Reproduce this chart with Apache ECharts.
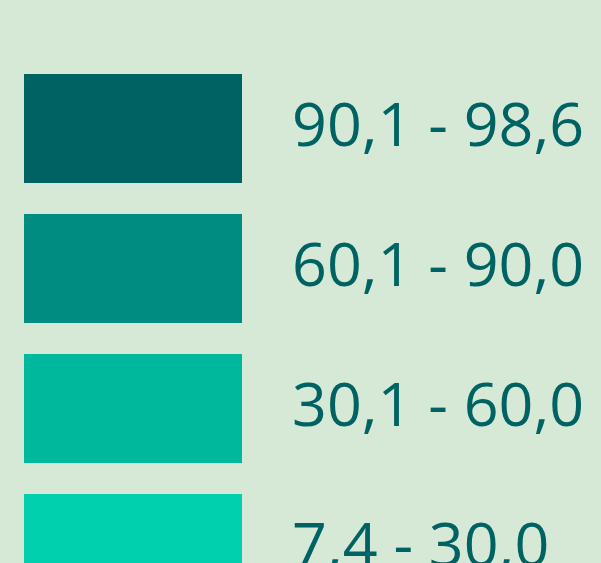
<!DOCTYPE html>
<html>
<head>
<meta charset="utf-8">
<script src="https://cdn.jsdelivr.net/npm/echarts@6/dist/echarts.min.js"></script>
<style>
html,body{margin:0;padding:0;background:#d6e9d7;}
#chart{width:601px;height:563px;}
</style>
</head>
<body>
<div id="chart"></div>
<script>
const rangeMins = [90.1, 60.1, 30.1, 7.4];
const rangeMaxs = [98.6, 90.0, 60.0, 30.0];
const rangeLabels = ['90,1 - 98,6', '60,1 - 90,0', '30,1 - 60,0', '7,4 - 30,0'];
const rangeColors = ['#006363', '#008c80', '#00b99c', '#00d0ae'];

const pieces = rangeMins.map((mn, i) => ({
  min: mn, max: rangeMaxs[i], label: rangeLabels[i], color: rangeColors[i]
}));

const chart = echarts.init(document.getElementById('chart'), null, {renderer: 'canvas'});
chart.setOption({
  backgroundColor: '#d6e9d7',
  animation: false,
  xAxis: {show: false, type: 'value'},
  yAxis: {show: false, type: 'value'},
  grid: {left: 0, right: 0, top: 0, bottom: 0},
  visualMap: {
    type: 'piecewise',
    orient: 'vertical',
    left: 9,
    top: 59,
    itemWidth: 218,
    itemHeight: 109,
    itemGap: 31,
    textGap: 50,
    itemSymbol: 'rect',
    inverse: false,
    pieces: pieces,
    textStyle: {
      color: '#006363',
      fontSize: 61,
      fontFamily: 'Open Sans'
    },
    selectedMode: false,
    hoverLink: false
  },
  series: [{type: 'scatter', data: []}]
});
</script>
</body>
</html>
